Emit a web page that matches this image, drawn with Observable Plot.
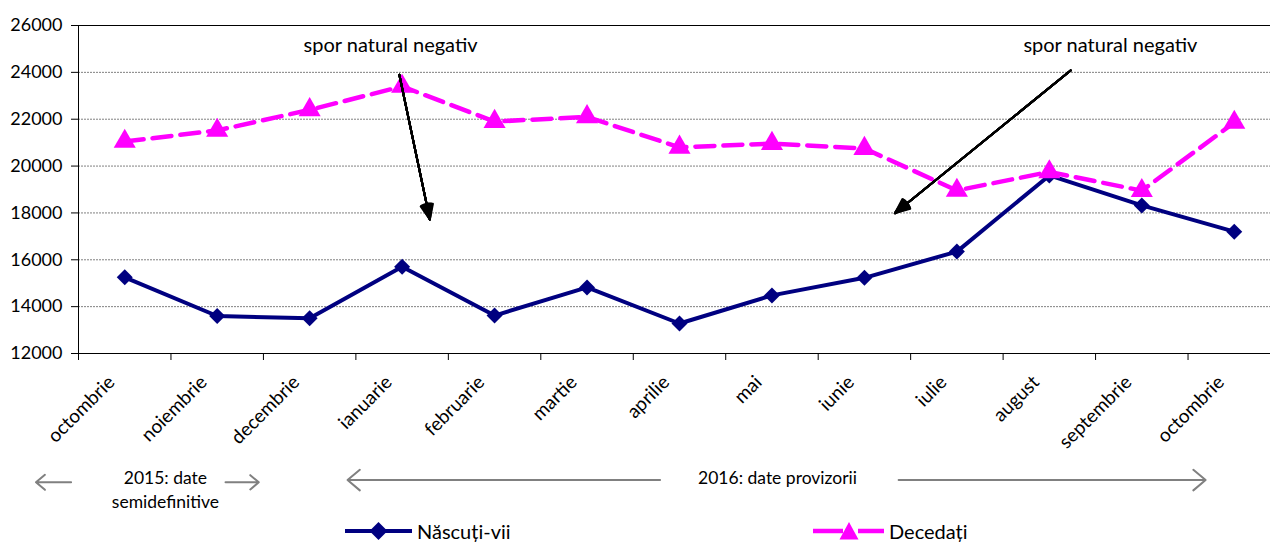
<!DOCTYPE html>
<html><head><meta charset="utf-8">
<script src="https://cdn.jsdelivr.net/npm/d3@7"></script>
<script src="https://cdn.jsdelivr.net/npm/@observablehq/plot@0.6"></script>
<style>
html,body{margin:0;padding:0;background:#fff;overflow:hidden}
body{width:1270px;height:545px;font-family:Lato,sans-serif;color:#000}
#legend{position:relative;height:28px;font-size:20px}
.item{position:absolute;top:0;height:28px;display:flex;align-items:center}
.item svg{margin-right:5px}
svg{display:block}
</style></head><body>
<div id="chart"></div><div id="bottom"></div><div id="legend"></div>
<script>
// ---- data ----
const months = ["octombrie","noiembrie","decembrie","ianuarie","februarie","martie","aprilie","mai","iunie","iulie","august","septembrie","octombrie"];
const nascuti  = [15250,13600,13500,15700,13620,14820,13280,14480,15230,16350,19600,18320,17200];
const decedati = [21050,21520,22400,23400,21900,22100,20800,20960,20750,18960,19750,18950,21860];
const seriesNames = ["Născuți-vii","Decedați"];
const yTicks = [12000,14000,16000,18000,20000,22000,24000,26000];
const gridTicks = [14000,16000,18000,20000,22000,24000];
// annotations (data units: x = month index, y = value)
const notes = [
  {label:"spor natural negativ", x:2.875, y:25150},
  {label:"spor natural negativ", x:10.66, y:25150}
];
const pointers = [
  {x1:2.97, y1:23900, x2:3.30, y2:17720},
  {x1:10.23,y1:24080, x2:8.33, y2:17990}
];
const periodTexts = [
  {t:"2015: date", x:0.44, y:0.29},
  {t:"semidefinitive", x:0.44, y:0.73},
  {t:"2016: date provizorii", x:7.06, y:0.29}
];
const periodArrows = [
  {x1:-0.58, x2:-0.96, y:0.36},
  {x1:1.09,  x2:1.45,  y:0.36},
  {x1:5.79,  x2:2.41,  y:0.32},
  {x1:8.37,  x2:11.69, y:0.32}
];

// ---- scales ----
const X = {domain:[-0.5,12.5], range:[78,1280]};
const Ydom = [12000,26000];
const boundaries = d3.range(-0.5, 13, 1);
const idx = d3.range(months.length);
const NAVY = "#000080", MAG = "#ff00ff";
// filled arrowheads: several open heads of increasing angle fill the wedge
const headAngles = [4,10,16,22,28,34,40,46];

const chart = Plot.plot({
  width:1270, height:462,
  marginLeft:78, marginRight:0, marginTop:25, marginBottom:109,
  x:{...X}, y:{domain:Ydom},
  style:{fontFamily:"Lato, sans-serif", fontSize:"18px", color:"#000", background:"#fff"},
  marks:[
    Plot.gridY(gridTicks, {stroke:"#808080", strokeOpacity:1, strokeDasharray:"2,1"}),
    Plot.ruleY([26000], {stroke:"#000"}),
    Plot.ruleY([12000], {stroke:"#000"}),
    Plot.ruleX([-0.5], {stroke:"#000"}),
    Plot.axisY({ticks:yTicks, tickSize:7, tickPadding:9, tickFormat:d3.format("d"), label:null, fontSize:18}),
    Plot.axisX({ticks:boundaries, tickSize:7, tickFormat:()=>"", label:null}),
    Plot.text(idx, {x:d=>d, text:d=>months[d], frameAnchor:"bottom", dy:30, dx:-9, rotate:-45, textAnchor:"end", fontSize:19}),
    Plot.line(nascuti, {x:(d,i)=>i, y:d=>d, stroke:NAVY, strokeWidth:4}),
    Plot.dot(nascuti, {x:(d,i)=>i, y:d=>d, symbol:"diamond2", r:7.2, fill:NAVY}),
    Plot.line(decedati, {x:(d,i)=>i, y:d=>d, stroke:MAG, strokeWidth:4.5, strokeDasharray:"19,9"}),
    Plot.dot(decedati, {x:(d,i)=>i, y:d=>d, symbol:"triangle", r:8.2, fill:MAG}),
    ...headAngles.map(a => Plot.arrow(pointers, {x1:"x1", y1:"y1", x2:"x2", y2:"y2", stroke:"#000", strokeWidth:2, headAngle:a, headLength:12})),
    Plot.text(notes, {x:"x", y:"y", text:"label", fontSize:20})
  ]
});
document.getElementById("chart").append(chart);

const bottom = Plot.plot({
  width:1270, height:55, margin:0,
  x:{...X, axis:null}, y:{domain:[0,1], range:[0,55], axis:null},
  style:{fontFamily:"Lato, sans-serif", fontSize:"17.5px", color:"#000", background:"#fff"},
  marks:[
    Plot.arrow(periodArrows, {x1:"x1", x2:"x2", y1:"y", y2:"y", stroke:"#808080", strokeWidth:2, headLength:12, headAngle:80}),
    Plot.text(periodTexts, {x:"x", y:"y", text:"t", fontSize:17.5})
  ]
});
document.getElementById("bottom").append(bottom);

// legend
const legend = document.getElementById("legend");
legend.innerHTML = `
<div class="item" style="left:345px"><svg width="67" height="20"><line x1="0" y1="10" x2="67" y2="10" stroke="${NAVY}" stroke-width="4"/><path d="M33.5,1L42.5,10L33.5,19L24.5,10Z" fill="${NAVY}"/></svg><span>${seriesNames[0]}</span></div>
<div class="item" style="left:813px"><svg width="71" height="20"><line x1="0" y1="10" x2="30" y2="10" stroke="${MAG}" stroke-width="4.5"/><line x1="45" y1="10" x2="71" y2="10" stroke="${MAG}" stroke-width="4.5"/><path d="M36,1L45.5,18.5L26.5,18.5Z" fill="${MAG}"/></svg><span>${seriesNames[1]}</span></div>`;
</script>
</body></html>
